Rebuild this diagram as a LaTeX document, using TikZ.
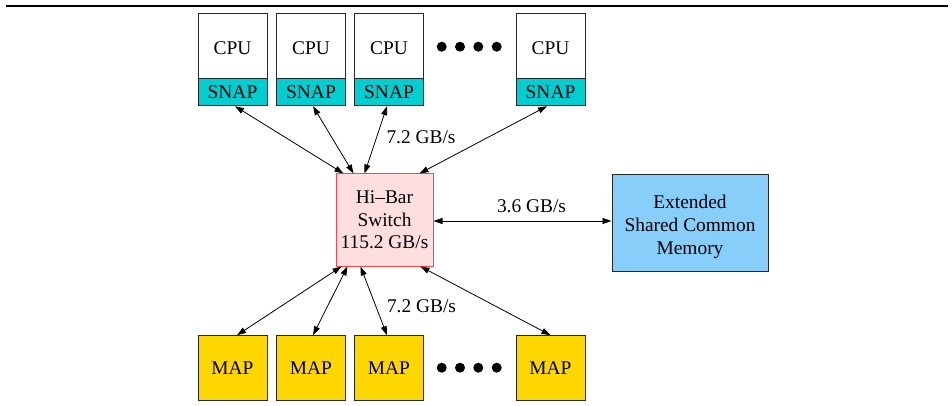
\documentclass[tikz,border=0pt]{standalone}
\usepackage{fontspec}
\setmainfont{Liberation Serif}
\usetikzlibrary{arrows.meta}
\definecolor{snapc}{RGB}{0,206,209}
\definecolor{mapc}{RGB}{255,215,0}
\definecolor{memc}{RGB}{135,206,250}
\definecolor{swc}{RGB}{255,222,224}
\definecolor{swb}{RGB}{255,70,70}
\definecolor{edgec}{RGB}{40,40,40}
\tikzset{
  box/.style={draw=edgec,line width=1pt,rectangle,inner sep=0pt,align=center,
    font=\fontsize{19.4}{23}\selectfont},
  cpubox/.style={box,fill=white,minimum width=69pt,minimum height=65pt,text height=18pt,text depth=0pt},
  snapbox/.style={box,fill=snapc,minimum width=69pt,minimum height=27.4pt},
  mapbox/.style={box,fill=mapc,minimum width=69pt,minimum height=64.3pt},
  swbox/.style={box,draw=swb,fill=swc,minimum width=97pt,minimum height=92pt,
    font=\fontsize{19.4}{22.5}\selectfont},
  membox/.style={box,fill=memc,minimum width=156pt,minimum height=97pt},
  lbl/.style={font=\fontsize{19.4}{23}\selectfont,inner sep=0pt},
  link/.style={line width=0.8pt,{Triangle[length=9pt,width=6pt]}-{Triangle[length=9pt,width=6pt]}},
  dotc/.style={circle,fill=black,inner sep=0pt,minimum size=10pt}
}
\begin{document}
\begin{tikzpicture}[x=1pt,y=-1pt]
\useasboundingbox (0,0) rectangle (952,406);
\draw[line width=1.4pt] (6,6) -- (948,6);
% CPU / SNAP column
\foreach \i/\cx in {1/232.5,2/311,3/389,4/550.5}{
  \node[cpubox] (cpu\i) at (\cx,45.8) {CPU};
  \node[snapbox] (snap\i) at (\cx,92) {SNAP};
  \node[mapbox] (map\i) at (\cx,367.85) {MAP};
}
\foreach \i/\dx in {1/441.7,2/460,3/478.3,4/496.7}{
  \node[dotc] (td\i) at (\dx,46.7) {};
  \node[dotc] (bd\i) at (\dx,367.7) {};
}
\node[swbox] (sw) at (384.5,220) {Hi–Bar\\Switch\\115.2 GB/s};
\node[membox] (mem) at (690,223) {\rule{0pt}{22pt}Extended\\Shared Common\\Memory};
% links top
\draw[link] ([xshift=2.5pt]snap1.south) -- ([xshift=8pt]sw.north west);
\draw[link] ([xshift=2pt]snap2.south) -- ([xshift=18pt]sw.north west);
\draw[link] ([xshift=-2pt]snap3.south) -- ([xshift=29pt]sw.north west);
\draw[link] ([xshift=-3.5pt]snap4.south) -- ([xshift=84pt]sw.north west);
% links bottom
\draw[link] ([xshift=4.5pt]map1.north) -- ([xshift=6pt]sw.south west);
\draw[link] ([xshift=2pt]map2.north) -- ([xshift=12pt]sw.south west);
\draw[link] ([xshift=-2pt]map3.north) -- ([xshift=25pt]sw.south west);
\draw[link] ([xshift=0pt]map4.north) -- ([xshift=85pt]sw.south west);
% memory link
\draw[link] (sw.east |- 0,221) -- (mem.west |- 0,221);
% labels
\node[lbl] (l1) at (421,137) {7.2 GB/s};
\node[lbl] (l2) at (421.5,306.5) {7.2 GB/s};
\node[lbl] (l3) at (531.5,206) {3.6 GB/s};
\end{tikzpicture}
\end{document}
